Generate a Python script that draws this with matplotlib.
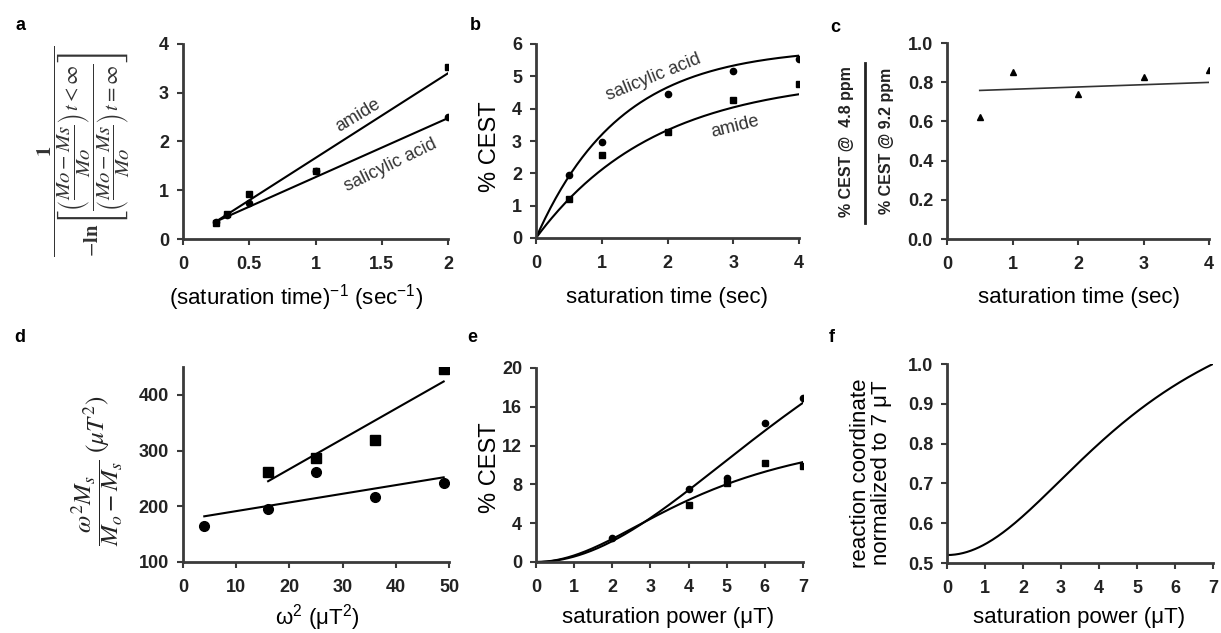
import numpy as np
import matplotlib.pyplot as plt
from matplotlib.lines import Line2D
from matplotlib.ticker import FormatStrFormatter, FuncFormatter

plt.rcParams['font.family'] = ['Liberation Sans', 'DejaVu Sans']
plt.rcParams['mathtext.fontset'] = 'custom'
plt.rcParams['mathtext.rm'] = 'Liberation Sans'
plt.rcParams['mathtext.it'] = 'Liberation Sans:italic'
plt.rcParams['mathtext.bf'] = 'Liberation Sans:bold'

# ---- data ----
# a: 1/(-ln ratio) vs 1/saturation time
inv_t = [0.25, 0.333, 0.5, 1.0, 2.0]
a_amide = [0.335, 0.51, 0.92, 1.39, 3.53]
a_sal = [0.35, 0.50, 0.73, 1.40, 2.51]
a_fit_x = [0.25, 2.0]
a_fit_amide = [0.36, 3.40]
a_fit_sal = [0.36, 2.48]

# b: %CEST vs saturation time
sat_t = [0.5, 1, 2, 3, 4]
b_sal = [1.95, 2.98, 4.45, 5.18, 5.54]
b_amide = [1.22, 2.57, 3.29, 4.27, 4.76]
b_fit_sal = (5.9, 0.78)      # A, k for A*(1-exp(-k t))
b_fit_amide = (5.0, 0.55)

# c: ratio of %CEST 4.8 ppm / 9.2 ppm
c_ratio = [0.625, 0.85, 0.74, 0.826, 0.86]
c_fit_x = [0.5, 4.0]
c_fit_y = [0.758, 0.799]

# d: omega^2 Ms/(Mo-Ms) vs omega^2
d_sq_x = [16, 25, 36, 49]
d_sq_y = [262, 287, 319, 446]
d_ci_x = [4, 16, 25, 36, 49]
d_ci_y = [164, 196, 261, 217, 242]
d_fit_sq_x, d_fit_sq_y = [16, 49], [245, 424]
d_fit_ci_x, d_fit_ci_y = [4, 49], [182, 252]

# e: %CEST vs saturation power
e_ci_x = [2, 4, 5, 6, 7]
e_ci_y = [2.5, 7.5, 8.7, 14.3, 16.9]
e_sq_x = [4, 5, 6, 7]
e_sq_y = [5.9, 8.1, 10.2, 9.9]
e_fit_upper = (40.0, 70.4)   # A, B for A*w^2/(B+w^2)
e_fit_lower = (14.63, 20.6)

# f: reaction coordinate normalized to 7 uT
f_fit = (0.52, 0.735, 26.0)  # a + b*w^2/(B+w^2)

W, H = 1221, 633
fig = plt.figure(figsize=(W / 100, H / 100), dpi=100)

AX_COL = '#3a3a3a'
TXT = '#333333'


def px_axes(l, t, r, b):
    return fig.add_axes([l / W, 1 - b / H, (r - l) / W, (b - t) / H])


def style(ax):
    for s in ['top', 'right']:
        ax.spines[s].set_visible(False)
    for s in ['left', 'bottom']:
        ax.spines[s].set_linewidth(2)
        ax.spines[s].set_color(AX_COL)
    ax.tick_params(direction='out', length=4, width=1.5, color=AX_COL,
                   labelsize=13, labelcolor='#222222')
    ax.tick_params(axis='x', pad=8)
    ax.tick_params(axis='y', pad=6)
    for lab in ax.get_xticklabels() + ax.get_yticklabels():
        lab.set_fontweight('bold')


def ftext(x, y, s, **kw):
    fig.text(x / W, 1 - y / H, s, ha='center', va='center', **kw)


gfmt = FuncFormatter(lambda v, p: '%g' % v)

# ---- panel a ----
ax = px_axes(183, 44, 448, 239)
ax.plot(a_fit_x, a_fit_amide, color='k', lw=1.5)
ax.plot(a_fit_x, a_fit_sal, color='k', lw=1.5)
ax.plot(inv_t, a_amide, 's', color='k', ms=5)
ax.plot(inv_t, a_sal, 'o', color='k', ms=4.5)
ax.set_xlim(0, 2)
ax.set_ylim(0, 4)
ax.set_xticks([0, 0.5, 1, 1.5, 2])
ax.set_yticks([0, 1, 2, 3, 4])
ax.xaxis.set_major_formatter(gfmt)
ax.text(1.32, 2.54, 'amide', rotation=31, ha='center', va='center', fontsize=13, color=TXT)
ax.text(1.57, 1.52, 'salicylic acid', rotation=26, ha='center', va='center', fontsize=13, color=TXT)
style(ax)

# ---- panel b ----
ax = px_axes(536, 44, 799, 238)
tt = np.linspace(0, 4, 200)
ax.plot(tt, b_fit_sal[0] * (1 - np.exp(-b_fit_sal[1] * tt)), color='k', lw=1.5)
ax.plot(tt, b_fit_amide[0] * (1 - np.exp(-b_fit_amide[1] * tt)), color='k', lw=1.5)
ax.plot(sat_t, b_sal, 'o', color='k', ms=4.5)
ax.plot(sat_t, b_amide, 's', color='k', ms=5)
ax.set_xlim(0, 4)
ax.set_ylim(0, 6)
ax.set_xticks([0, 1, 2, 3, 4])
ax.set_yticks(range(0, 7))
ax.text(1.78, 4.97, 'salicylic acid', rotation=22, ha='center', va='center', fontsize=13, color=TXT)
ax.text(3.02, 3.44, 'amide', rotation=14, ha='center', va='center', fontsize=13, color=TXT)
style(ax)

# ---- panel c ----
ax = px_axes(947, 43, 1209, 239)
ax.plot(c_fit_x, c_fit_y, color='#333333', lw=1.2)
ax.plot(sat_t, c_ratio, '^', color='k', ms=4)
ax.set_xlim(0, 4)
ax.set_ylim(0, 1)
ax.set_xticks([0, 1, 2, 3, 4])
ax.set_yticks(np.arange(0, 1.01, 0.2))
ax.yaxis.set_major_formatter(FormatStrFormatter('%.1f'))
style(ax)

# ---- panel d ----
ax = px_axes(183, 367, 449, 562)
ax.plot(d_fit_sq_x, d_fit_sq_y, color='k', lw=1.5)
ax.plot(d_fit_ci_x, d_fit_ci_y, color='k', lw=1.5)
ax.plot(d_sq_x, d_sq_y, 's', color='k', ms=7)
ax.plot(d_ci_x, d_ci_y, 'o', color='k', ms=7)
ax.set_xlim(0, 50)
ax.set_ylim(100, 450)
ax.set_xticks(range(0, 51, 10))
ax.set_yticks([100, 200, 300, 400])
style(ax)

# ---- panel e ----
ax = px_axes(536, 368, 803, 562)
ww = np.linspace(0, 7, 200)
ax.plot(ww, e_fit_upper[0] * ww ** 2 / (e_fit_upper[1] + ww ** 2), color='k', lw=1.5)
ax.plot(ww, e_fit_lower[0] * ww ** 2 / (e_fit_lower[1] + ww ** 2), color='k', lw=1.5)
ax.plot(e_ci_x, e_ci_y, 'o', color='k', ms=4.5)
ax.plot(e_sq_x, e_sq_y, 's', color='k', ms=5)
ax.set_xlim(0, 7)
ax.set_ylim(0, 20)
ax.set_xticks(range(0, 8))
ax.set_yticks(range(0, 21, 4))
style(ax)

# ---- panel f ----
ax = px_axes(947, 364, 1213, 563)
ax.plot(ww, f_fit[0] + f_fit[1] * ww ** 2 / (f_fit[2] + ww ** 2), color='k', lw=1.5)
ax.set_xlim(0, 7)
ax.set_ylim(0.5, 1.0)
ax.set_xticks(range(0, 8))
ax.set_yticks(np.arange(0.5, 1.01, 0.1))
ax.yaxis.set_major_formatter(FormatStrFormatter('%.1f'))
style(ax)

# ---- axis labels ----
XL = 16
ftext(296, 298, '(saturation time)$^{-1}$ (sec$^{-1}$)', fontsize=XL)
ftext(667, 298, 'saturation time (sec)', fontsize=XL)
ftext(1079, 298, 'saturation time (sec)', fontsize=XL)
ftext(317, 618, 'ω$^{2}$ (μT$^{2}$)', fontsize=XL)
ftext(668, 617, 'saturation power (μT)', fontsize=XL)
ftext(1079, 617, 'saturation power (μT)', fontsize=XL)

ftext(490, 147, '% CEST', fontsize=17, rotation=90)
ftext(490, 468, '% CEST', fontsize=17, rotation=90)
ftext(871, 473, 'reaction coordinate\nnormalized to 7 μT', fontsize=16, rotation=90,
      linespacing=1.05)

ylab_a = (r'$\dfrac{\mathbf{1}}{-\mathbf{ln}\left[\dfrac{{\left(\dfrac{Mo-Ms}{Mo}\right)}\,t<\infty}'
          r'{{\left(\dfrac{Mo-Ms}{Mo}\right)}\,t=\infty}\right]}$')
ftext(84, 151, ylab_a, fontsize=15, rotation=90, math_fontfamily='stix', color=TXT)

ylab_d = r'$\dfrac{\omega^2 M_s}{M_o - M_s}\ (\mu T^2)$'
ftext(97, 471, ylab_d, fontsize=18, rotation=90, math_fontfamily='stix', color='#222222')

# panel c: fraction label
ftext(847, 142, '% CEST @  4.8 ppm', fontsize=11.5, rotation=90, fontweight='bold', color='#222222')
ftext(886, 141, '% CEST @ 9.2 ppm', fontsize=11.5, rotation=90, fontweight='bold', color='#222222')
fig.add_artist(Line2D([865 / W, 865 / W], [1 - 63 / H, 1 - 223 / H], color='#222222', lw=2))

# ---- panel letters ----
for lx, ly, s in [(20, 25, 'a'), (475, 25, 'b'), (835, 28, 'c'),
                  (20, 338, 'd'), (472, 338, 'e'), (832, 338, 'f')]:
    ftext(lx, ly, s, fontsize=13, fontweight='bold')

fig.savefig('out.png', dpi=100)
